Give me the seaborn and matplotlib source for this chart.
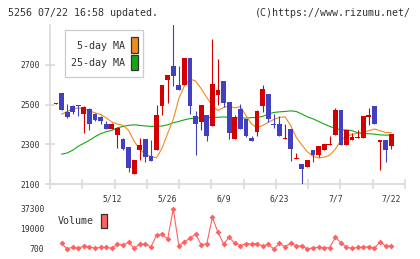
import numpy as np
import matplotlib
matplotlib.use("Agg")
import matplotlib.pyplot as plt
import seaborn as sns
from matplotlib.patches import Rectangle

sns.set_style("white")
plt.rcParams["font.family"] = ["DejaVu Sans Mono", "DejaVu Sans"]

# colours
UP_RED = "#d40000"
DOWN_BLUE = "#4040c0"
MA5_ORANGE = "#f08c1e"
MA25_GREEN = "#14a814"
VOL_PINK = "#ff6262"
AXIS_GRAY = "#d9d9d9"
TEXT_GRAY = "#333333"

# daily candles, first one is the day before the window (no volume / MA)
opens = [2505, 2560, 2460, 2493, 2498, 2450, 2477, 2453, 2435, 2403, 2376,
         2347, 2328, 2286, 2150, 2269, 2328, 2241, 2269, 2493, 2621,
         2695, 2599, 2596, 2734, 2443, 2410, 2448, 2392, 2549, 2619,
         2514, 2326, 2477, 2427, 2330, 2364, 2490, 2554, 2403, 2403,
         2326, 2376, 2224, 2201, 2188, 2271, 2246, 2269, 2296, 2347,
         2470, 2297, 2323, 2329, 2329, 2438, 2493, 2309, 2323, 2291]
highs = [2509, 2560, 2505, 2497, 2500, 2490, 2480, 2455, 2440, 2419, 2408,
         2385, 2330, 2286, 2221, 2332, 2328, 2323, 2498, 2600, 2650,
         2920, 2692, 2734, 2734, 2465, 2498, 2448, 2831, 2729, 2619,
         2514, 2448, 2503, 2427, 2340, 2473, 2596, 2554, 2453, 2443,
         2403, 2376, 2254, 2201, 2221, 2271, 2291, 2301, 2342, 2482,
         2470, 2370, 2359, 2372, 2443, 2482, 2493, 2323, 2323, 2352]
lows = [2505, 2470, 2432, 2450, 2440, 2356, 2370, 2415, 2403, 2376, 2376,
        2282, 2272, 2160, 2150, 2221, 2212, 2218, 2269, 2448, 2510,
        2594, 2574, 2596, 2453, 2246, 2370, 2318, 2392, 2498, 2487,
        2326, 2326, 2376, 2335, 2318, 2342, 2460, 2410, 2381, 2339,
        2326, 2218, 2224, 2095, 2188, 2213, 2236, 2269, 2296, 2347,
        2297, 2297, 2323, 2329, 2329, 2398, 2403, 2168, 2213, 2276]
closes = [2509, 2470, 2437, 2460, 2490, 2487, 2403, 2420, 2419, 2376, 2403,
          2381, 2278, 2178, 2221, 2297, 2235, 2218, 2448, 2599, 2650,
          2645, 2574, 2734, 2490, 2403, 2498, 2342, 2604, 2574, 2510,
          2359, 2437, 2376, 2342, 2318, 2465, 2579, 2427, 2395, 2339,
          2331, 2276, 2229, 2175, 2221, 2246, 2291, 2301, 2301, 2470,
          2297, 2370, 2336, 2336, 2443, 2448, 2403, 2323, 2271, 2352]

ma5 = [2451, 2465, 2478, 2482, 2480, 2468, 2458, 2450, 2432, 2412,
       2402, 2395, 2370, 2315, 2275, 2250, 2238, 2232, 2280, 2355,
       2425, 2530, 2595, 2628, 2618, 2580, 2535, 2492, 2470, 2485,
       2492, 2483, 2489, 2445, 2402, 2383, 2395, 2410, 2425, 2435,
       2438, 2395, 2335, 2297, 2262, 2240, 2231, 2235, 2245, 2275,
       2320, 2339, 2349, 2356, 2361, 2368, 2377, 2368, 2359, 2359]
ma25 = [2250, 2256, 2270, 2290, 2305, 2320, 2338, 2353, 2363, 2370,
        2382, 2390, 2395, 2398, 2395, 2392, 2390, 2390, 2392, 2398,
        2408, 2415, 2423, 2429, 2432, 2432, 2434, 2435, 2436, 2437,
        2436, 2433, 2432, 2432, 2434, 2435, 2440, 2452, 2460, 2463,
        2465, 2468, 2465, 2452, 2438, 2428, 2415, 2402, 2390, 2380,
        2372, 2372, 2368, 2358, 2354, 2353, 2351, 2347, 2346, 2346]
volume = [5350, 200, 1630, 700, 2870, 2250, 700, 1630, 1630, 700,
          4420, 3800, 6280, 700, 4420, 4730, 1940, 12800, 13730, 9390,
          37300, 2870, 6900, 10000, 14040, 3800, 5040, 29550, 15590, 4730,
          10940, 5350, 3180, 5040, 4730, 5040, 2870, 4420, 100, 5350,
          2250, 5350, 3180, 2870, 100, 1320, 1630, 1320, 1320, 10940,
          5970, 1630, 700, 1630, 1630, 2250, 700, 6590, 2870, 2870]

date_labels = ["5/12", "5/26", "6/9", "6/23", "7/7", "7/22"]
label_days = [9, 19, 29, 39, 49, 59]
price_ticks = [2100, 2300, 2500, 2700]
volume_ticks = [700, 19000, 37300]

o, h, l, c = map(np.array, (opens, highs, lows, closes))
candle_days = np.arange(len(opens)) - 1
days = np.arange(len(volume))

W, H = 420, 259
fig = plt.figure(figsize=(W / 100, H / 100), dpi=100)


def px_box(left, top, right, bottom):
    return [left / W, 1 - bottom / H, (right - left) / W, (bottom - top) / H]


ax = fig.add_axes(px_box(50, 25, 405, 184))
vax = fig.add_axes(px_box(50, 204, 405, 252))
XMIN, XMAX = -2.06, 61.47

# moving averages under the candles
sns.lineplot(x=days, y=ma25, color=MA25_GREEN, lw=0.8, ax=ax, zorder=2)
sns.lineplot(x=days, y=ma5, color=MA5_ORANGE, lw=0.8, ax=ax, zorder=2)

colors = np.where(c >= o, UP_RED, DOWN_BLUE)
ax.vlines(candle_days, l, h, colors=colors, lw=0.8, zorder=3)
ax.bar(candle_days, np.maximum(np.abs(c - o), 5), bottom=np.minimum(o, c),
       width=0.86, color=colors, lw=0, zorder=4)

ax.set_xlim(XMIN, XMAX)
ax.set_ylim(2100, 2900)
ax.set_xlabel("")
ax.set_ylabel("")
for side in ("top", "right"):
    ax.spines[side].set_visible(False)
for side in ("left", "bottom"):
    ax.spines[side].set_color(AXIS_GRAY)
    ax.spines[side].set_linewidth(1.2)

ax.set_xticks(np.linspace(XMIN, XMAX, 12))
ax.set_xticks(label_days, date_labels, minor=True)
ax.tick_params(axis="x", which="major", bottom=True, direction="inout",
               length=7, width=1.2, color=AXIS_GRAY, labelbottom=False)
ax.tick_params(axis="x", which="minor", bottom=True, length=0, pad=7.5,
               labelsize=5.8, labelcolor=TEXT_GRAY)
ax.set_yticks(price_ticks, [str(t) for t in price_ticks])
ax.tick_params(axis="y", left=True, direction="inout", length=7, width=1.2,
               color=AXIS_GRAY, pad=4, labelsize=5.8, labelcolor=TEXT_GRAY)

# volume panel
sns.lineplot(x=days, y=volume, color=VOL_PINK, lw=0.8, marker="D",
             markersize=3, markeredgewidth=0, ax=vax)
vax.set_xlim(XMIN, XMAX)
vax.set_ylim(-2746, 41956)
vax.set_xticks([])
vax.set_yticks(volume_ticks, [str(t) for t in volume_ticks])
vax.tick_params(axis="y", left=False, length=0, pad=4, labelsize=5.8,
                labelcolor=TEXT_GRAY)
vax.set_xlabel("")
vax.set_ylabel("")
for sp in vax.spines.values():
    sp.set_visible(False)
vax.patch.set_alpha(0)


def fig_rect(left, top, right, bottom, **kw):
    fig.add_artist(Rectangle((left / W, 1 - bottom / H), (right - left) / W,
                             (bottom - top) / H, transform=fig.transFigure, **kw))


def fig_text(x, y, s, **kw):
    fig.text(x / W, 1 - y / H, s, va="center", fontsize=7.2, color=TEXT_GRAY, **kw)


# header
fig_text(8, 12.5, "5256 07/22 16:58 updated.")
fig_text(411, 12.5, "(C)https://www.rizumu.net/", ha="right")

# MA legend
fig_rect(65, 30, 143, 77, facecolor="white", edgecolor="#cccccc", lw=0.9, zorder=5)
fig_text(125, 46, "5-day MA", ha="right", zorder=6)
fig_text(125, 63, "25-day MA", ha="right", zorder=6)
fig_rect(131, 37, 138, 53, facecolor=MA5_ORANGE, edgecolor="#333333", lw=0.9, zorder=6)
fig_rect(131, 54.5, 138, 69.5, facecolor=MA25_GREEN, edgecolor="#333333", lw=0.9, zorder=6)

# volume legend
fig_text(58, 221.5, "Volume")
fig_rect(101, 213.5, 107, 228, facecolor=VOL_PINK, edgecolor="#333333", lw=0.9)

fig.savefig("out.png", dpi=100)
